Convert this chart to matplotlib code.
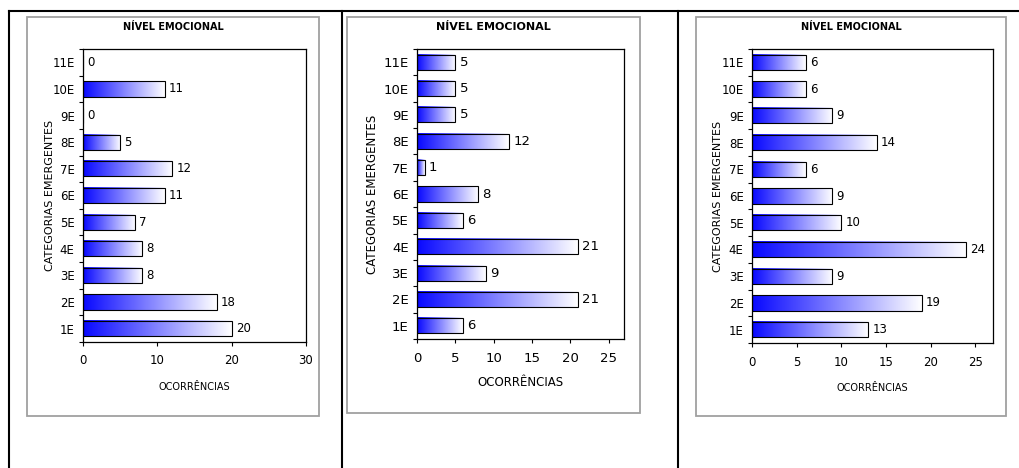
import numpy as np
import matplotlib
matplotlib.use("Agg")
import matplotlib.pyplot as plt
from matplotlib.colors import LinearSegmentedColormap
from matplotlib.lines import Line2D
from matplotlib.patches import Rectangle

# dados
categorias = ["1E", "2E", "3E", "4E", "5E", "6E", "7E", "8E", "9E", "10E", "11E"]
valores1 = [20, 18, 8, 8, 7, 11, 12, 5, 0, 11, 0]
valores2 = [6, 21, 9, 21, 6, 8, 1, 12, 5, 5, 5]
valores3 = [13, 19, 9, 24, 10, 9, 6, 14, 9, 6, 6]
titulo = "NÍVEL EMOCIONAL"
xlab = "OCORRÊNCIAS"
ylab = "CATEGORIAS EMERGENTES"

W, H = 1019, 468
fig = plt.figure(figsize=(W / 100, H / 100), dpi=100)
cmap = LinearSegmentedColormap.from_list("grad", ["#0808ff", "#ffffff"])
grad = np.linspace(0, 1, 256).reshape(1, -1)


def px(x, y):
    return x / W, 1 - y / H


def painel(vals, ax_box, borda, xmax, xticks, fs, tfs, yfs, xfs, fam, yl_x, tit_y, xl_y):
    x0, y0, x1, y1 = ax_box
    ax = fig.add_axes([x0 / W, 1 - y1 / H, (x1 - x0) / W, (y1 - y0) / H])
    n = len(vals)
    h = 0.57
    for i, v in enumerate(vals):
        if v > 0:
            ax.imshow(grad, cmap=cmap, aspect="auto",
                      extent=[0, v, i - h / 2, i + h / 2], zorder=2)
        ax.barh(i, v, height=h, facecolor="none", edgecolor="black",
                linewidth=0.8, zorder=3)
        ax.annotate(str(v), (v, i), xytext=(3, 0), textcoords="offset points",
                    va="center", ha="left", fontsize=fs, family=fam)
    ax.set_xlim(0, xmax)
    ax.set_ylim(-0.5, n - 0.5)
    ax.set_xticks(xticks)
    ax.set_xticklabels([str(t) for t in xticks], fontsize=fs, family=fam)
    ax.set_yticks(np.arange(-0.5, n, 1.0))
    ax.set_yticklabels([])
    ax.set_yticks(np.arange(n), minor=True)
    ax.set_yticklabels(categorias, minor=True, fontsize=fs, family=fam)
    ax.tick_params(axis="y", which="minor", length=0, pad=6)
    ax.tick_params(axis="y", which="major", length=3, width=0.8)
    ax.tick_params(axis="x", length=3, width=0.8, pad=6)
    for s in ax.spines.values():
        s.set_linewidth(0.9)
    # borda cinza
    bx0, by0, bx1, by1 = borda
    fig.add_artist(Rectangle(px(bx0, by1), (bx1 - bx0) / W, (by1 - by0) / H,
                             fill=False, edgecolor="#a0a0a0", linewidth=1.3,
                             transform=fig.transFigure))
    fig.text(*px((bx0 + bx1) / 2, tit_y), titulo, ha="center", va="center",
             fontsize=tfs, fontweight="bold", family=fam)
    fig.text(*px((x0 + x1) / 2, xl_y), xlab, ha="center", va="center", fontsize=xfs,
             family=fam)
    fig.text(*px(yl_x, (y0 + y1) / 2), ylab, ha="center", va="center",
             rotation=90, fontsize=yfs, family="DejaVu Sans")
    return ax


narrow = ["Liberation Sans Narrow", "DejaVu Sans"]
painel(valores1, (83, 49, 306, 342), (27, 17, 319, 416), 30, [0, 10, 20, 30],
       8.5, 7, 8, 7, narrow, 50, 27, 387)
painel(valores2, (417, 49, 624, 339), (347, 17, 640, 413), 27, [0, 5, 10, 15, 20, 25],
       9.5, 8, 8.5, 8.5, ["DejaVu Sans"], 372, 27, 383)
painel(valores3, (752, 49, 993, 343), (696, 17, 1006, 416), 27, [0, 5, 10, 15, 20, 25],
       8.5, 7, 8, 7, narrow, 718, 27, 388)

# linhas da tabela
lw = 1.5
fig.add_artist(Line2D([9 / W, 1], [1 - 11 / H] * 2, color="black", linewidth=lw))
for xv in [9, 342, 678]:
    fig.add_artist(Line2D([xv / W] * 2, [1 - 11 / H, 0], color="black", linewidth=lw))

fig.savefig("out.png", dpi=100)
